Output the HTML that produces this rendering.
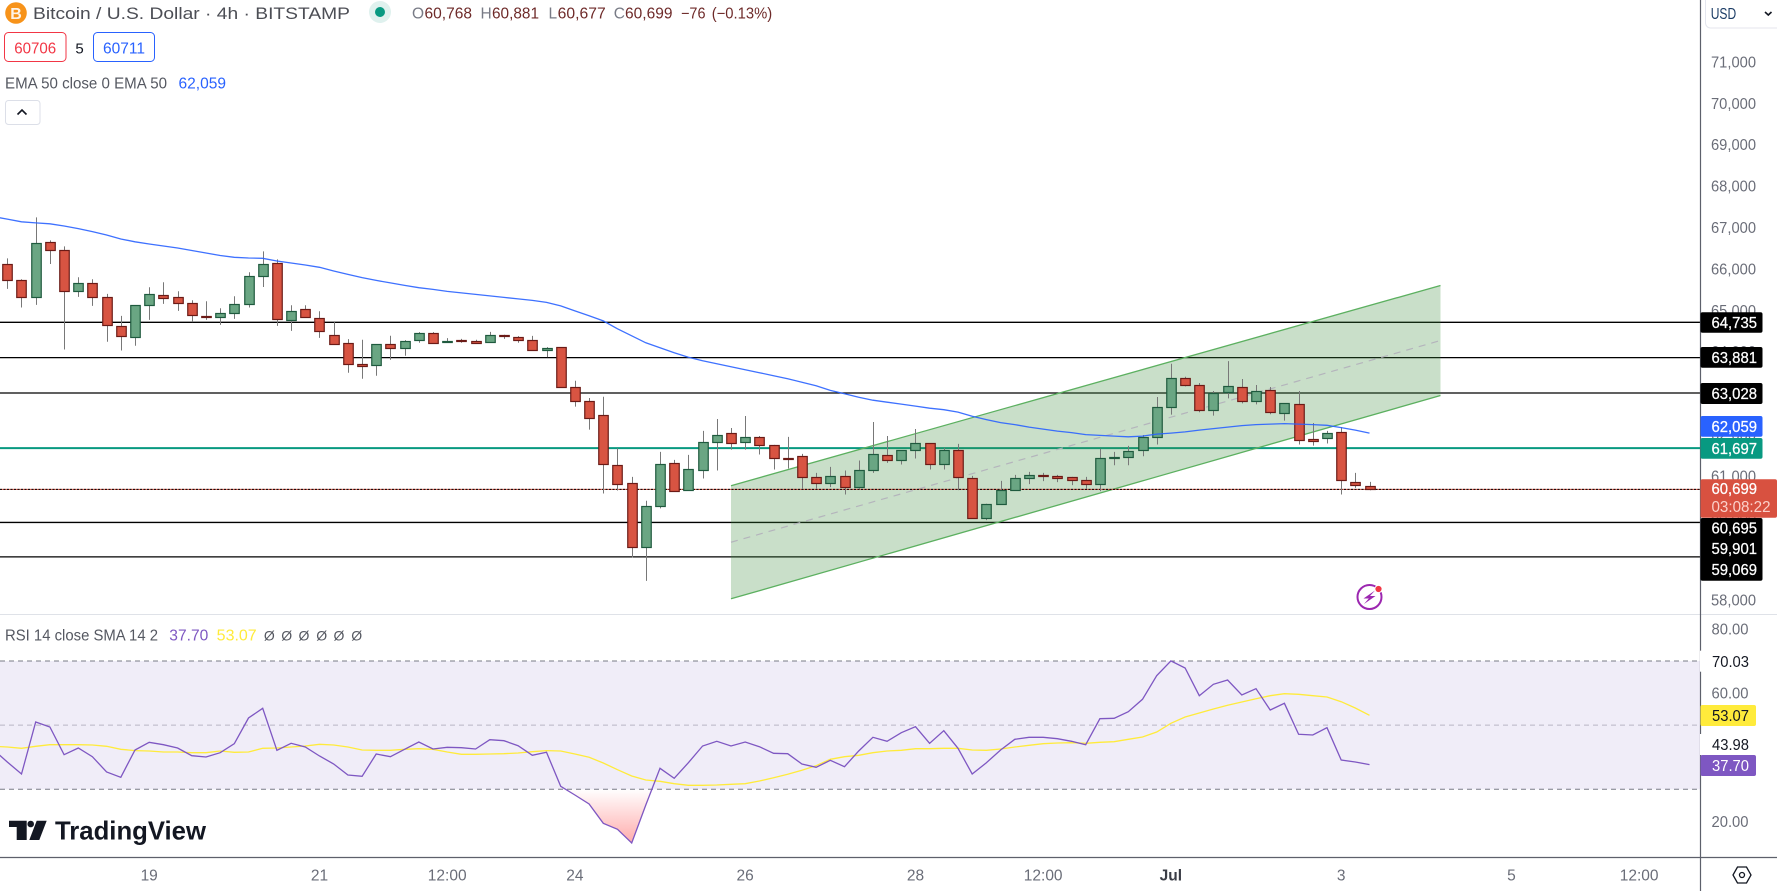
<!DOCTYPE html>
<html lang="en">
<head>
<meta charset="utf-8">
<title>Bitcoin / U.S. Dollar 4h chart</title>
<style>
html,body{margin:0;padding:0;background:#fff;width:1777px;height:891px;overflow:hidden}
svg{display:block;font-family:"Liberation Sans",sans-serif}
</style>
</head>
<body>
<svg id="chart" xmlns="http://www.w3.org/2000/svg" width="1777" height="891" viewBox="0 0 1777 891">
  <defs>
    <linearGradient id="oversold-gradient" gradientUnits="userSpaceOnUse" x1="0" y1="789" x2="0" y2="845">
      <stop offset="0" stop-color="#ff5252" stop-opacity="0"/>
      <stop offset="1" stop-color="#ff5252" stop-opacity="0.5"/>
    </linearGradient>
    <clipPath id="oversold-clip"><rect x="0" y="789.3" width="1700" height="68"/></clipPath>
  </defs>
  <rect x="0" y="0" width="1777" height="891" fill="#ffffff"/>

  <g id="price-pane"></g>
  <g id="rsi-pane"></g>

  <!-- pane separators and axes -->
  <line x1="0" y1="614.5" x2="1777" y2="614.5" stroke="#dfe2e8" stroke-width="1"/>
  <line x1="0" y1="857.5" x2="1777" y2="857.5" stroke="#5d606b" stroke-width="1.2"/>
  <line x1="1700.5" y1="0" x2="1700.5" y2="891" stroke="#5d606b" stroke-width="1.2"/>

  <g id="price-axis"></g>
  <g id="rsi-axis"></g>
  <g id="time-axis"></g>

  <!-- price labels -->
  <g id="price-labels" font-size="16" fill="#ffffff" stroke="#ffffff" stroke-width="0.25">
    <g><rect x="1700.5" y="312.3" width="62" height="20.5" rx="2" fill="#000" stroke="none"/><text x="1711.5" y="328" textLength="45.5" lengthAdjust="spacingAndGlyphs">64,735</text></g>
    <g><rect x="1700.5" y="347" width="62" height="20.7" rx="2" fill="#000" stroke="none"/><text x="1711.5" y="363" textLength="45.5" lengthAdjust="spacingAndGlyphs">63,881</text></g>
    <g><rect x="1700.5" y="383" width="62" height="21" rx="2" fill="#000" stroke="none"/><text x="1711.5" y="399" textLength="45.5" lengthAdjust="spacingAndGlyphs">63,028</text></g>
    <g><rect x="1700.5" y="416" width="62" height="20.7" rx="2" fill="#2962ff" stroke="none"/><text x="1711.5" y="432" textLength="45.5" lengthAdjust="spacingAndGlyphs">62,059</text></g>
    <g><rect x="1700.5" y="438" width="62" height="20.7" rx="2" fill="#089981" stroke="none"/><text x="1711.5" y="454" textLength="45.5" lengthAdjust="spacingAndGlyphs">61,697</text></g>
    <g><rect x="1700.5" y="518" width="62" height="62.7" rx="2" fill="#000" stroke="none"/>
      <text x="1711.5" y="533.5" textLength="45.5" lengthAdjust="spacingAndGlyphs">60,695</text>
      <text x="1711.5" y="554.2" textLength="45.5" lengthAdjust="spacingAndGlyphs">59,901</text>
      <text x="1711.5" y="574.8" textLength="45.5" lengthAdjust="spacingAndGlyphs">59,069</text></g>
    <g><rect x="1700.5" y="479.3" width="76.5" height="38.5" rx="2" fill="#d85140" stroke="none"/>
      <text x="1711.5" y="494.2" textLength="45.5" lengthAdjust="spacingAndGlyphs">60,699</text>
      <text x="1711.5" y="512.2" textLength="59" lengthAdjust="spacingAndGlyphs" fill="#fbd0c9" stroke="none">03:08:22</text></g>
  </g>

  <!-- RSI labels -->
  <g font-size="16">
    <g><rect x="1700" y="650.7" width="56" height="21" fill="#fff"/><text x="1712" y="667" textLength="37" lengthAdjust="spacingAndGlyphs" fill="#131722">70.03</text></g>
    <g><rect x="1700" y="734" width="56" height="21" fill="#fff"/><text x="1712" y="750" textLength="37" lengthAdjust="spacingAndGlyphs" fill="#131722">43.98</text></g>
    <g><rect x="1700.5" y="705" width="55.5" height="21" rx="2" fill="#ffeb3b"/><text x="1712" y="721" textLength="37" lengthAdjust="spacingAndGlyphs" fill="#131722">53.07</text></g>
    <g><rect x="1700.5" y="755" width="55.5" height="21" rx="2" fill="#7e57c2"/><text x="1712" y="771" textLength="37" lengthAdjust="spacingAndGlyphs" fill="#ffffff">37.70</text></g>
  </g>

  <!-- header -->
  <g>
    <circle cx="16" cy="13" r="10.8" fill="#f7931a"/>
    <text x="16" y="19" font-size="16" font-weight="bold" fill="#fff" text-anchor="middle" opacity="0.9">B</text>
  </g>
  <text x="33" y="19" font-size="16.5" fill="#4c4e55" textLength="317" lengthAdjust="spacingAndGlyphs">Bitcoin / U.S. Dollar · 4h · BITSTAMP</text>
  <g><circle cx="380" cy="12" r="11" fill="#dff1ee"/><circle cx="380" cy="12" r="5" fill="#089981"/></g>
  <g font-size="15.5">
    <text x="412" y="18.5" fill="#787b86">O</text><text x="424.5" y="18.5" fill="#6e2a29" textLength="47.5" lengthAdjust="spacingAndGlyphs">60,768</text>
    <text x="480.5" y="18.5" fill="#787b86">H</text><text x="492" y="18.5" fill="#6e2a29" textLength="47" lengthAdjust="spacingAndGlyphs">60,881</text>
    <text x="548.5" y="18.5" fill="#787b86">L</text><text x="557.7" y="18.5" fill="#6e2a29" textLength="48" lengthAdjust="spacingAndGlyphs">60,677</text>
    <text x="613.8" y="18.5" fill="#787b86">C</text><text x="625" y="18.5" fill="#6e2a29" textLength="47.5" lengthAdjust="spacingAndGlyphs">60,699</text>
    <text x="681" y="18.5" fill="#6e2a29" textLength="24.5" lengthAdjust="spacingAndGlyphs">−76</text>
    <text x="711.7" y="18.5" fill="#6e2a29" textLength="60.5" lengthAdjust="spacingAndGlyphs">(−0.13%)</text>
  </g>
  <g><rect x="4.5" y="32.5" width="61.5" height="29" rx="4" fill="#fff" stroke="#f23645"/><text x="35.2" y="53.5" font-size="15.5" fill="#f23645" text-anchor="middle" textLength="42" lengthAdjust="spacingAndGlyphs">60706</text></g>
  <text x="79.6" y="53.5" font-size="15" fill="#131722" text-anchor="middle">5</text>
  <g><rect x="93.5" y="32.5" width="61" height="29" rx="4" fill="#fff" stroke="#2962ff"/><text x="124" y="53.5" font-size="15.5" fill="#2962ff" text-anchor="middle" textLength="42" lengthAdjust="spacingAndGlyphs">60711</text></g>
  <text x="5" y="88.5" font-size="15.5" fill="#555861" textLength="162" lengthAdjust="spacingAndGlyphs">EMA 50 close 0 EMA 50</text>
  <text x="178.5" y="88.5" font-size="15.5" fill="#2962ff" textLength="47.5" lengthAdjust="spacingAndGlyphs">62,059</text>
  <g><rect x="5.5" y="100.5" width="34.5" height="24" rx="3" fill="#fff" stroke="#dcdfe8"/><path d="M17.5 114.5 L22 110 L26.5 114.5" fill="none" stroke="#131722" stroke-width="1.6"/></g>

  <!-- currency button -->
  <g>
    <path d="M1705.5 0 V23 a5 5 0 0 0 5 5 H1777" fill="#fff" stroke="#e4e6ee"/>
    <text x="1710.7" y="19" font-size="15.5" fill="#1c3d66" textLength="25.5" lengthAdjust="spacingAndGlyphs">USD</text>
    <path d="M1765 12 L1768.3 15 L1771.5 12" fill="none" stroke="#131722" stroke-width="1.6"/>
  </g>

  <!-- lightning -->
  <g>
    <circle cx="1369.5" cy="597" r="12" fill="#fff" stroke="#9c27b0" stroke-width="2"/>
    <path d="M1375 590.5 L1363.5 598.5 H1368.8 L1364 604 L1375.5 596 H1370 Z" fill="#9c27b0"/>
    <circle cx="1378.5" cy="589" r="3.6" fill="#f23645" stroke="#fff" stroke-width="1"/>
  </g>

  <!-- RSI legend -->
  <g font-size="15.5">
    <text x="5" y="640.5" fill="#555861" textLength="153" lengthAdjust="spacingAndGlyphs">RSI 14 close SMA 14 2</text>
    <text x="169.3" y="640.5" fill="#7e57c2" textLength="39" lengthAdjust="spacingAndGlyphs">37.70</text>
    <text x="216.7" y="640.5" fill="#ffeb3b" textLength="40" lengthAdjust="spacingAndGlyphs">53.07</text>
    <g fill="#555861" text-anchor="middle" font-size="14">
      <text x="269.3" y="640.5">Ø</text><text x="286.7" y="640.5">Ø</text><text x="304" y="640.5">Ø</text><text x="321.7" y="640.5">Ø</text><text x="339" y="640.5">Ø</text><text x="356.7" y="640.5">Ø</text>
    </g>
  </g>

  <!-- logo -->
  <g>
    <path d="M9 820.7 H26.7 V840 H16.7 V827 H9 Z" fill="#131722"/>
    <circle cx="30.7" cy="824" r="3.3" fill="#131722"/>
    <path d="M36.7 820.7 H46.7 L39.3 840 H29.3 Z" fill="#131722"/>
    <text x="55" y="839.3" font-size="26" font-weight="bold" fill="#131722" textLength="151" lengthAdjust="spacingAndGlyphs">TradingView</text>
  </g>

  <!-- settings -->
  <g>
    <path d="M1733 875 L1737.5 867 H1746.5 L1751 875 L1746.5 883 H1737.5 Z" fill="none" stroke="#131722" stroke-width="1.3"/>
    <circle cx="1742" cy="875" r="2.5" fill="none" stroke="#131722" stroke-width="1.3"/>
  </g>
</svg>

<script>
// ---- data ----
var opens = [66136,65750,65340,66666,66473,65485,65678,65340,64641,64376,65148,65389,65340,65196,64882,64858,64955,65172,65846,66160,64786,65051,64834,64425,64232,63726,63702,64208,64111,64304,64473,64248,64288,64280,64248,64424,64376,64304,64055,64135,63171,62834,62472,61268,60834,59291,60279,61316,60665,61147,61822,62039,61822,61942,61749,61444,61484,60978,60834,61002,60737,61147,61508,61388,61629,61798,61292,61629,60954,59990,60328,60665,60954,61034,61002,60978,60906,60810,61452,61460,61629,61942,62689,63388,63220,62593,63051,63171,62834,63099,62521,62738,61894,61918,62063,60858,60768];
var highs = [66280,65774,67268,66714,66569,65822,65774,65421,64890,65148,65581,65702,65485,65268,65244,65075,65364,65943,66449,66256,65148,65148,65003,64738,64328,64312,64208,64409,64304,64497,64497,64352,64336,64312,64505,64433,64400,64408,64135,64135,63324,62906,62938,61693,61002,60424,61605,61412,61533,62111,62400,62183,62472,61990,61774,61966,61557,61099,61243,61155,61396,62328,61990,61629,62159,61798,61701,61798,61026,60352,60906,61051,61123,61099,61051,61002,61002,61677,61605,61749,62014,62930,63734,63420,63268,63075,63798,63364,63220,63171,62762,63075,62304,62111,62207,61099,60881];
var lows = [65541,65091,65156,66144,64079,65348,65131,64264,64055,64168,64794,65180,65011,64738,64794,64674,64818,65091,65589,64650,64529,64858,64360,64208,63517,63372,63445,63830,63927,64240,64232,64240,64240,64216,64248,64336,64240,64055,63894,63171,62697,62143,60601,60673,59058,58488,60239,60641,60665,60962,61155,61661,61661,61541,61179,61203,60713,60713,60753,60577,60713,61099,61340,61300,61444,61179,61179,60681,59990,59958,60328,60665,60826,60898,60874,60801,60713,60657,61283,61283,61500,61782,62505,63187,62561,62480,62898,62778,62754,62513,62360,61782,61757,61806,60577,60737,60677];
var closes = [65750,65340,66642,66473,65485,65678,65340,64666,64400,65148,65413,65316,65196,64907,64858,64955,65172,65846,66136,64810,65003,64858,64521,64208,63726,63678,64208,64111,64280,64473,64232,64280,64264,64224,64424,64392,64296,64055,64111,63171,62834,62400,61292,60810,59291,60279,61292,60641,61171,61822,61990,61798,61942,61749,61436,61428,60978,60834,61002,60753,61147,61533,61388,61629,61798,61292,61629,60978,59990,60328,60665,60954,61026,61018,60970,60906,60810,61436,61460,61605,61942,62689,63388,63220,62593,63027,63195,62834,63075,62545,62762,61870,61846,62039,60906,60785,60699];

// line series start one bar before the first visible candle
var emaValues = [67289,67228,67163,67137,67115,67060,66999,66927,66843,66746,66679,66626,66578,66529,66469,66409,66349,66305,66288,66281,66216,66168,66120,66064,65975,65891,65814,65746,65686,65626,65570,65529,65481,65445,65409,65373,65336,65300,65264,65216,65132,65011,64891,64770,64577,64409,64240,64119,63999,63890,63806,63734,63662,63589,63517,63445,63372,63288,63204,63090,63011,62926,62854,62806,62758,62710,62661,62625,62565,62464,62384,62312,62264,62203,62155,62107,62071,62023,62003,61987,61970,61987,62035,62059,62088,62131,62167,62203,62240,62264,62276,62288,62276,62264,62247,62191,62131,62059];
var rsiValues = [42.46,38.51,34.77,50.98,49.42,40.8,42.88,40.17,35.39,33.73,42.25,44.64,43.92,42.88,40.49,40.07,41.42,44.23,52.23,55.24,42.15,44.33,43.19,40.38,37.89,34.46,34.04,41.01,40.17,42.46,44.75,42.57,43.08,42.98,42.57,45.47,45.16,43.6,40.59,41.53,30.93,28.22,25.42,19.39,17.52,13.26,25.11,36.54,33.42,38.3,43.5,44.96,43.5,44.75,43.29,41.21,41.11,37.89,36.85,39.03,37.06,41.94,46.2,44.96,47.66,49.53,44.33,48.28,42.77,34.77,38.3,42.25,45.58,46.2,46.2,45.79,44.96,43.92,52.02,52.13,54.2,58.05,65.43,70.03,67.82,59.19,62.73,64.08,59.4,61.37,54.72,56.8,47.14,46.93,49.22,39.14,38.51,37.7];
var rsiSmaValues = [43.4,43.19,42.77,43.4,43.92,43.92,43.92,43.81,43.4,42.46,42.05,41.94,41.63,41.63,41.42,41.42,41.94,41.53,41.63,42.77,42.88,43.19,43.5,44.02,43.81,43.19,42.25,42.15,42.15,42.46,42.67,42.46,41.63,40.9,40.9,41.01,41.11,41.32,41.73,42.05,41.94,41.01,39.97,38.2,36.12,34.15,32.9,32.48,31.76,31.24,31.24,31.34,31.55,31.76,32.59,33.63,34.67,35.91,37.37,39.34,40.17,40.59,41.42,41.94,42.15,42.67,42.67,42.77,42.77,42.25,42.15,42.57,43.19,43.71,44.23,44.44,44.54,44.33,44.64,44.85,45.58,46.31,47.87,50.57,52.54,53.79,55.04,56.18,57.22,58.26,59.19,59.82,59.61,59.19,58.78,57.32,55.35,53.07];

var levelValues = [64735,63881,63028,59901,59069];
var tealLevel = 61697;
var lastPrice = 60699;

var channelBars = [51,101];
var channelUpper = [60788,65624];
var channelMiddle = [59422,64295];
var channelLower = [58056,62967];

var priceTicks = [71000,70000,69000,68000,67000,66000,65000,64000,63000,62000,61000,60000,59000,58000];
var rsiTicks = [80,60,40,20];
var rsiBands = [70,50,30];
var timeLabels = ['19','21','12:00','24','26','28','12:00','Jul','3','5','12:00'];
var timeBars = [10,22,31,40,52,64,73,82,94,106,115];

// ---- axis functions ----
function xOf(bar){ return 7.3 + 14.19 * bar; }
function yOf(price){ return 322.3 + (64735 - price) * 0.0414; }
function rsiY(v){ return 661 + (70 - v) * 3.2075; }

var NS = 'http://www.w3.org/2000/svg';
function make(tag, attrs, parent, text){
  var el = document.createElementNS(NS, tag);
  for (var k in attrs) { el.setAttribute(k, attrs[k]); }
  if (text !== undefined) { el.textContent = text; }
  parent.appendChild(el);
  return el;
}
function fmt(n){ return String(n).replace(/\B(?=(\d{3})+$)/g, ','); }
function crisp(v){ return Math.round(v - 0.5) + 0.5; }

var price = document.getElementById('price-pane');
var rsi = document.getElementById('rsi-pane');
var priceAxis = document.getElementById('price-axis');
var rsiAxis = document.getElementById('rsi-axis');
var timeAxis = document.getElementById('time-axis');

// horizontal levels
levelValues.forEach(function(v){
  var el = make('line', {x1:0, x2:1700, y1:yOf(v), y2:yOf(v), stroke:'#000', 'stroke-width':1.3}, price);
  
  
});
var teal = make('line', {x1:0, x2:1700, y1:yOf(tealLevel), y2:yOf(tealLevel), stroke:'#089981', 'stroke-width':2}, price);



// regression channel
var chPts = [
  xOf(channelBars[0]) + ',' + yOf(channelUpper[0]),
  xOf(channelBars[1]) + ',' + yOf(channelUpper[1]),
  xOf(channelBars[1]) + ',' + yOf(channelLower[1]),
  xOf(channelBars[0]) + ',' + yOf(channelLower[0])
].join(' ');
var chFill = make('polygon', {points:chPts, fill:'rgb(60,140,60)', 'fill-opacity':0.28}, price);


var chUp = make('line', {x1:xOf(channelBars[0]), y1:yOf(channelUpper[0]), x2:xOf(channelBars[1]), y2:yOf(channelUpper[1]), stroke:'#5cb060', 'stroke-width':1.3}, price);


var chLow = make('line', {x1:xOf(channelBars[0]), y1:yOf(channelLower[0]), x2:xOf(channelBars[1]), y2:yOf(channelLower[1]), stroke:'#5cb060', 'stroke-width':1.3}, price);


var chMid = make('line', {x1:xOf(channelBars[0]), y1:yOf(channelMiddle[0]), x2:xOf(channelBars[1]), y2:yOf(channelMiddle[1]), stroke:'#b4b4bc', 'stroke-width':1.2, 'stroke-dasharray':'7 6'}, price);



// last price dotted line
var lastBase = make('line', {x1:0, x2:1700, y1:yOf(lastPrice), y2:yOf(lastPrice), stroke:'#d85140', 'stroke-width':1}, price);


var lastDots = make('line', {x1:0, x2:1700, y1:yOf(lastPrice), y2:yOf(lastPrice), stroke:'#000', 'stroke-width':1, 'stroke-dasharray':'2 1.5'}, price);



// candles
opens.forEach(function(o, i){
  var c = closes[i], up = c >= o;
  var cx = Math.round(xOf(i)) + 0.5;
  var wick = make('line', {x1:cx, x2:cx, y1:yOf(highs[i]), y2:yOf(lows[i]), stroke:'#787878', 'stroke-width':1}, price);
  
  
  var top = crisp(yOf(Math.max(o, c)));
  var bottom = crisp(yOf(Math.min(o, c)));
  var body = make('rect', {x:cx - 4.75, width:9.5, y:top, height:Math.max(bottom - top, 1),
    fill: up ? '#6aa683' : '#d85442', stroke: up ? '#1e5a3e' : '#6b1a16', 'stroke-width':1.2}, price);
  
  
});

// EMA line
function linePoints(values, yFn){
  return values.map(function(v, k){ return xOf(k - 1).toFixed(1) + ',' + yFn(v).toFixed(1); }).join(' ');
}
var ema = make('polyline', {points:linePoints(emaValues, yOf), fill:'none', stroke:'#2962ff', 'stroke-width':1.3, 'stroke-opacity':0.9}, price);



// RSI band
var band = make('rect', {x:0, width:1700, y:rsiY(rsiBands[0]), height:rsiY(rsiBands[2]) - rsiY(rsiBands[0]), fill:'#f0edf8'}, rsi);


rsiBands.forEach(function(v, i){
  var mid = i === 1;
  var el = make('line', {x1:0, x2:1700, y1:rsiY(v), y2:rsiY(v), stroke: mid ? '#b8b6c4' : '#787b86', 'stroke-width':1, 'stroke-dasharray':'5 4'}, rsi);
  
  
});

// oversold gradient
var lastIdx = rsiValues.length - 2;
var fillPts = xOf(-1) + ',' + rsiY(30) + ' ' + linePoints(rsiValues, rsiY) + ' ' + xOf(lastIdx) + ',' + rsiY(30);
var over = make('polygon', {points:fillPts, fill:'url(#oversold-gradient)', 'clip-path':'url(#oversold-clip)'}, rsi);



var sma = make('polyline', {points:linePoints(rsiSmaValues, rsiY), fill:'none', stroke:'#ffeb3b', 'stroke-width':1.3}, rsi);


var rsiLine = make('polyline', {points:linePoints(rsiValues, rsiY), fill:'none', stroke:'#7e57c2', 'stroke-width':1.3}, rsi);



// axis labels
priceTicks.forEach(function(t){
  var el = make('text', {x:1711, y:yOf(t) + 4.5, 'font-size':16, fill:'#6a6d78', textLength:45, lengthAdjust:'spacingAndGlyphs'}, priceAxis, fmt(t));
  
  
});
rsiTicks.forEach(function(t){
  var el = make('text', {x:1711.5, y:rsiY(t) + 5.5, 'font-size':16, fill:'#6a6d78', textLength:37, lengthAdjust:'spacingAndGlyphs'}, rsiAxis, t.toFixed(2));
  
  
});
timeLabels.forEach(function(t, i){
  var isMonth = t === 'Jul';
  var el = make('text', {x:xOf(timeBars[i]), y:880.5, 'font-size':15.5, 'text-anchor':'middle',
    fill: isMonth ? '#3a3d46' : '#6a6d78', 'font-weight': isMonth ? 'bold' : 'normal'}, timeAxis, t);
  
  
});
</script>
</body>
</html>
